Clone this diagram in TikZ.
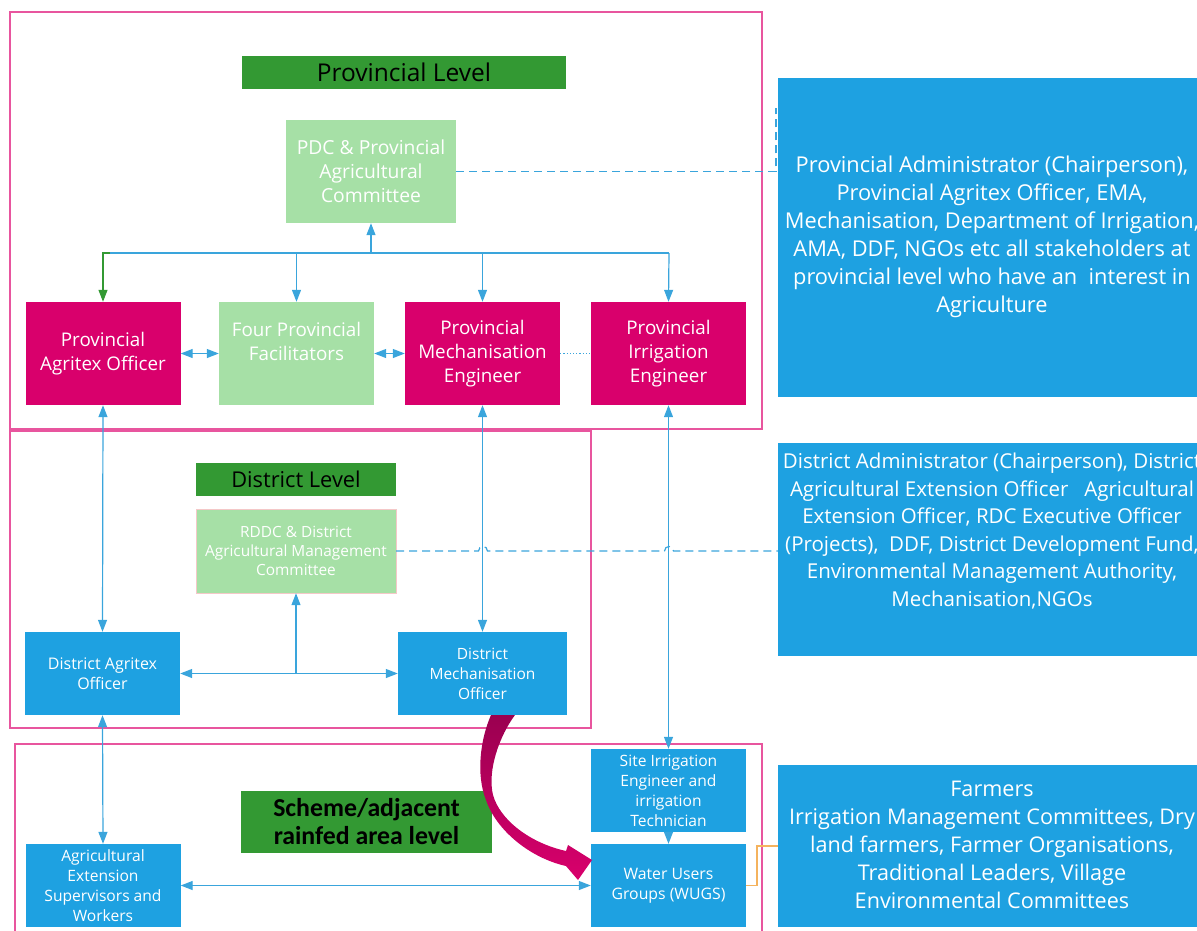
\documentclass[tikz,border=0pt]{standalone}
\usepackage{fontspec}
\setmainfont{Open Sans}
\newfontfamily\calibri{Carlito}
\usetikzlibrary{arrows.meta}
\definecolor{mag}{HTML}{D9006C}
\definecolor{maroon}{HTML}{9A0050}
\definecolor{lgreen}{HTML}{A6E0A6}
\definecolor{dgreen}{HTML}{339933}
\definecolor{boxblue}{HTML}{1EA1E1}
\definecolor{lineblue}{HTML}{3AA5DC}
\definecolor{frame}{HTML}{E8559E}
\definecolor{orangeline}{HTML}{F5B35E}
\definecolor{lpink}{HTML}{F4C8C8}
\tikzset{
  fs/.style 2 args={font=\fontsize{#1}{#2}\selectfont},
  base/.style={rectangle, inner sep=0pt, align=center, text=white},
  magbox/.style={base, fill=mag},
  grbox/.style={base, fill=lgreen},
  bluebox/.style={base, fill=boxblue},
  banner/.style={rectangle, inner sep=0pt, align=center, fill=dgreen, text=black},
  levelframe/.style={draw=frame, line width=1.3pt},
  conn/.style={draw=lineblue, line width=1.2pt},
  tip/.style={-{Triangle[length=12pt,width=9pt]}},
  dtip/.style={{Triangle[length=12pt,width=9pt]}-{Triangle[length=12pt,width=9pt]}},
}
\begin{document}
\begin{tikzpicture}[x=1pt,y=-1pt]
\useasboundingbox (0,0) rectangle (1197,930);
\clip (0,0) rectangle (1197,930);
% frames
\draw[levelframe] (10,12) rectangle (762,429);
\draw[levelframe] (10,431) rectangle (591,728);
\draw[levelframe] (15,744) rectangle (762,940);
% provincial level
\node[banner, minimum width=324pt, minimum height=33pt, fs={24.5}{28}] (provlevel) at (404,72.5) {Provincial Level};
\node[grbox, minimum width=170pt, minimum height=103pt, fs={19.3}{24}] (pdc) at (371,171.5) {PDC \& Provincial\\Agricultural\\Committee};
\node[magbox, minimum width=155pt, minimum height=103pt, fs={18.8}{24}] (pao) at (103,353.5) {Provincial\\Agritex Officer};
\node[grbox, minimum width=155pt, minimum height=103pt, fs={18.8}{24}] (fpf) at (296.5,353.5) {Four Provincial\\Facilitators\\\mbox{}};
\node[magbox, minimum width=155pt, minimum height=103pt, fs={18.8}{24}] (pme) at (482.5,353.5) {Provincial\\Mechanisation\\Engineer};
\node[magbox, minimum width=155pt, minimum height=103pt, fs={18.8}{24}] (pie) at (668.5,353.5) {Provincial\\Irrigation\\Engineer};
\node[bluebox, minimum width=428pt, minimum height=319pt] (provbox) at (992,237.5) {};
\node[base, fs={21.8}{28}] (provtext) at (992,237) {Provincial Administrator (Chairperson),\\Provincial Agritex Officer, EMA,\\Mechanisation, Department of Irrigation,\\AMA, DDF, NGOs etc all stakeholders at\\provincial level who have an\ \ interest in\\Agriculture};
% bus
\coordinate (busmid) at (371,253);
\coordinate (busL) at (110,253);
\coordinate (busR) at (669,253);
\draw[conn] (busL) -- (busR);
\draw[conn, tip] (busmid) -- (pdc.south);
\draw[draw=dgreen, line width=1.2pt, -{Triangle[length=12pt,width=9pt]}] (busL) -| (pao.north);
\draw[conn, tip] (fpf.north |- busL) -- (fpf.north);
\draw[conn, tip] (pme.north |- busL) -- (pme.north);
\draw[conn, tip] (busR) -- (pie.north);
\draw[conn, dtip] (pao.east) -- (fpf.west);
\draw[conn, dtip] (fpf.east) -- (pme.west);
\draw[conn, dotted] (pme.east) -- (pie.west);
\coordinate (pdcdash1) at (776,171.5);
\coordinate (pdcdash2) at (776,108);
\draw[conn, dashed, dash pattern=on 8pt off 5pt] (pdc.east) -- (pdcdash1) -- (pdcdash2);
% district level
\node[banner, minimum width=200pt, minimum height=33pt, fs={21.8}{25}] (distlevel) at (296,479) {District Level};
\node[grbox, draw=lpink, minimum width=200pt, minimum height=84pt, fs={15.4}{19}] (rddc) at (296,551) {RDDC \& District\\Agricultural Management\\Committee};
\node[bluebox, minimum width=155pt, minimum height=83pt, fs={16}{20}] (dao) at (102.5,673.5) {District Agritex\\Officer};
\node[bluebox, minimum width=169pt, minimum height=83pt, fs={15.5}{20}] (dmo) at (482.5,673.5) {District\\Mechanisation\\Officer};
\node[bluebox, minimum width=428pt, minimum height=213pt] (distbox) at (992,549.5) {};
\node[base, fs={20.5}{27.6}] (disttext) at (992,531) {District Administrator (Chairperson), District\\Agricultural Extension Officer\ \ \ Agricultural\\Extension Officer, RDC Executive Officer\\(Projects),\ \ DDF, District Development Fund,\\Environmental Management Authority,\\Mechanisation,NGOs};
\draw[conn, dtip] (pao.south) -- (dao.north);
\draw[conn, dtip] (pme.south) -- (dmo.north);
\draw[conn, dtip] (dao.east) -- (dmo.west);
\draw[conn, tip] (dao.east -| rddc.south) -- (rddc.south);
\coordinate (ddash) at (778,551);
\draw[conn, dashed, dash pattern=on 8pt off 5pt] (rddc.east) -- (478.5,551) .. controls (478.5,545) and (487.5,545) .. (487.5,551) -- (664.5,551) .. controls (664.5,545) and (673.5,545) .. (673.5,551) -- (ddash);
% scheme level
\node[banner, minimum width=251pt, minimum height=62pt, font=\calibri\bfseries\fontsize{25.8}{28}\selectfont] (schemelevel) at (366.5,822) {Scheme/adjacent\\rainfed area level};
\node[bluebox, minimum width=155pt, minimum height=83pt, fs={15.6}{20}] (agx) at (103,885.5) {Agricultural\\Extension\\Supervisors and\\Workers};
\node[bluebox, minimum width=155pt, minimum height=83pt, fs={15.6}{20}] (site) at (668.5,790.5) {Site Irrigation\\Engineer and\\irrigation\\Technician};
\node[bluebox, minimum width=155pt, minimum height=83pt, fs={15.8}{20}] (wugs) at (668.5,885.5) {Water Users\\Groups (WUGS)};
\node[bluebox, minimum width=428pt, minimum height=162pt] (farmbox) at (992,846) {};
\node[base, fs={21.6}{28}] (farmtext) at (992,845) {Farmers\\Irrigation Management Committees, Dry\\land farmers, Farmer Organisations,\\Traditional Leaders, Village\\Environmental Committees};
\draw[conn, dtip] (pie.south) -- (site.north);
\draw[conn, dtip] (dao.south) -- (agx.north);
\draw[conn, dtip] (agx.east) -- (wugs.west);
\draw[conn, tip] (site.south) -- (wugs.north);
\coordinate (orturn) at (757,846);
\draw[draw=orangeline, line width=1.2pt] (wugs.east) -| (orturn) -- (farmbox.west);
% curved block arrow
\shade[top color=maroon, bottom color=mag, middle color=maroon!50!mag]
  (491,715) .. controls (480,740) and (476,775) .. (486,800)
  .. controls (496,830) and (530,858) .. (566,866)
  -- (578,880) -- (592,860) -- (568,845) -- (566,851)
  .. controls (530,843) and (500,820) .. (493,795)
  .. controls (487,770) and (500,735) .. (515,715) -- cycle;
\end{tikzpicture}
\end{document}
